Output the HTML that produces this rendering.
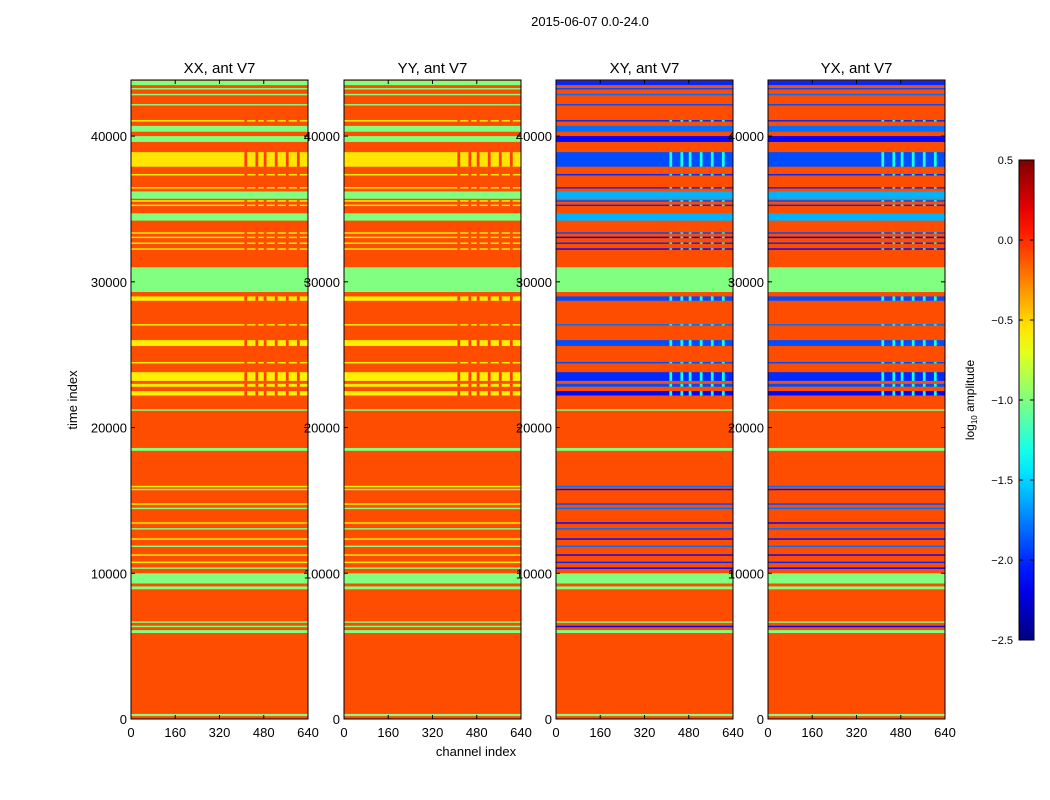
<!DOCTYPE html>
<html><head><meta charset="utf-8">
<style>
html,body{margin:0;padding:0;background:#fff;}
svg{display:block;font-family:"Liberation Sans","DejaVu Sans",sans-serif;}
</style></head>
<body>
<svg id="chart" width="1050" height="800"></svg>
<script>
// ---- data ----
const panelTitles = ["XX, ant V7","YY, ant V7","XY, ant V7","YX, ant V7"];
const xTicks = [0,160,320,480,640];
const yTicks = [0,10000,20000,30000,40000];
const cbTicks = [0.5,0.0,-0.5,-1.0,-1.5,-2.0,-2.5];
const baseValue = -0.1;
// bands: start time, end time, value for parallel-hand (XX/YY), value for cross-hand (XY/YX)
const bandStart = [200,5900,6300,6600,8900,9300,10300,10700,11200,11800,12300,13000,13400,14400,14700,15700,15900,18400,21150,22200,22800,23200,24400,25600,27000,28700,29300,32200,32600,33000,33300,34200,35200,35500,35700,36400,37300,37900,39600,40300,41000,42100,42800,43200,43500];
const bandEnd   = [350,6100,6400,6700,9100,10000,10400,10800,11300,11900,12400,13100,13500,14500,14800,15800,16000,18600,21250,22500,23000,23800,24500,26000,27100,29000,31000,32300,32700,33100,33400,34700,35300,35600,36200,36500,37400,38900,40000,40700,41100,42200,42900,43300,43800];
const parVal   = [-1.0,-1.0,-1.0,-1.0,-1.0,-1.0,-1.0,-0.58,-0.58,-1.0,-0.58,-1.0,-0.58,-1.0,-0.58,-1.0,-0.58,-1.0,-1.0,-0.58,-0.58,-0.58,-0.58,-0.58,-0.58,-0.58,-1.0,-0.58,-0.58,-0.58,-0.58,-1.0,-0.58,-0.58,-1.0,-0.58,-0.58,-0.55,-1.0,-1.0,-0.58,-1.0,-1.0,-1.0,-1.0];
const crossVal = [-1.0,-1.0,-2.1,-1.0,-1.0,-1.0,-2.1,-2.0,-2.1,-1.8,-2.1,-1.8,-2.1,-1.8,-1.9,-2.1,-1.8,-1.0,-1.0,-2.1,-1.9,-2.0,-1.9,-1.9,-1.8,-1.9,-1.0,-2.1,-2.0,-2.1,-1.9,-1.6,-2.0,-1.9,-1.6,-2.0,-2.0,-1.9,-2.1,-1.8,-2.0,-1.9,-1.8,-1.9,-2.0];
// high-channel striping
const stripeCh0 = [410,450,480,520,560,600];
const stripeCh1 = [420,460,490,530,570,610];
const stripeT0 = 22000, stripeT1 = 42000;
const stripeParVal = -0.05, stripeCrossVal = -1.3;

// ---- layout ----
const NS="http://www.w3.org/2000/svg";
const svg=document.getElementById('chart');
const panelX=[131,344,556,768], pw=177, plotTop=80, plotBot=719;
const tMax=43850, chMax=640;
function el(tag,attrs,parent){const e=document.createElementNS(NS,tag);for(const k in attrs)e.setAttribute(k,attrs[k]);(parent||svg).appendChild(e);return e;}
function yS(t){return plotBot-(t/tMax)*(plotBot-plotTop);}
function xS(p,c){return panelX[p]+c/chMax*pw;}
function jet(v){
  let x=(v+2.5)/3; x=Math.max(0,Math.min(1,x));
  const f=a=>Math.max(0,Math.min(1,a));
  const r=f(Math.min(4*x-1.5,-4*x+4.5)),g=f(Math.min(4*x-0.5,-4*x+3.5)),b=f(Math.min(4*x+0.5,-4*x+2.5));
  return `rgb(${Math.round(r*255)},${Math.round(g*255)},${Math.round(b*255)})`;
}
const title=el('text',{x:590,y:26,'text-anchor':'middle','font-size':13});
title.textContent="2015-06-07 0.0-24.0";



for(let p=0;p<4;p++){
  const g=el('g',{});
  
  
  const cross=p>=2;
  const bg=el('rect',{x:panelX[p],y:plotTop,width:pw,height:plotBot-plotTop,fill:jet(baseValue)},g);
  
  
  for(let i=0;i<bandStart.length;i++){
    const y0=yS(bandEnd[i]),y1=yS(bandStart[i]);
    const r=el('rect',{x:panelX[p],y:y0,width:pw,height:Math.max(1,y1-y0),fill:jet(cross?crossVal[i]:parVal[i])},g);
    
    
    if(bandStart[i]>=stripeT0&&bandEnd[i]<=stripeT1&&parVal[i]>-0.9){
      for(let s=0;s<stripeCh0.length;s++){
        const sr=el('rect',{x:xS(p,stripeCh0[s]),y:y0,width:xS(p,stripeCh1[s])-xS(p,stripeCh0[s]),height:Math.max(1,y1-y0),fill:jet(cross?stripeCrossVal:stripeParVal)},g);
        
        
      }
    }
  }
  const fr=el('rect',{x:panelX[p],y:plotTop,width:pw,height:plotBot-plotTop,fill:'none',stroke:'#000','stroke-width':1});
  
  
  const pt=el('text',{x:panelX[p]+pw/2,y:73,'text-anchor':'middle','font-size':15});
  pt.textContent=panelTitles[p];
  
  
  for(const c of xTicks){
    const x=xS(p,c);
    el('line',{x1:x,x2:x,y1:plotBot,y2:plotBot-4,stroke:'#000'});
    el('line',{x1:x,x2:x,y1:plotTop,y2:plotTop+4,stroke:'#000'});
    const t=el('text',{x:x,y:plotBot+18,'text-anchor':'middle','font-size':13});
    t.textContent=c;
    
    
  }
  for(const v of yTicks){
    const y=yS(v);
    el('line',{x1:panelX[p],x2:panelX[p]+4,y1:y,y2:y,stroke:'#000'});
    el('line',{x1:panelX[p]+pw,x2:panelX[p]+pw-4,y1:y,y2:y,stroke:'#000'});
    const t=el('text',{x:panelX[p]-4,y:y+5,'text-anchor':'end','font-size':13});
    t.textContent=v;
    
    
  }
}
const yl=el('text',{x:77,y:400,'text-anchor':'middle','font-size':13,transform:'rotate(-90 77 400)'});
yl.textContent="time index";


const xl=el('text',{x:476,y:756,'text-anchor':'middle','font-size':13});
xl.textContent="channel index";



// colorbar
const cbx=1019,cbw=15,cbTop=160,cbBot=640;
const cb=el('g',{});


const defs=el('defs',{});
const lg=el('linearGradient',{id:'jetg',x1:0,y1:1,x2:0,y2:0},defs);
for(let i=0;i<=20;i++){el('stop',{offset:i/20,'stop-color':jet(-2.5+3*i/20)},lg);}
el('rect',{x:cbx,y:cbTop,width:cbw,height:cbBot-cbTop,fill:'url(#jetg)',stroke:'#000'},cb);
function cbY(v){return cbBot-(v+2.5)/3*(cbBot-cbTop);}
for(const v of cbTicks){
  const y=cbY(v);
  el('line',{x1:cbx,x2:cbx+4,y1:y,y2:y,stroke:'#000'},cb);
  el('line',{x1:cbx+cbw,x2:cbx+cbw-4,y1:y,y2:y,stroke:'#000'},cb);
  const t=el('text',{x:1013,y:y+4,'text-anchor':'end','font-size':11},cb);
  t.textContent=v.toFixed(1).replace('-','\u2212');
  
  
}
const cl=el('text',{x:974,y:400,'text-anchor':'middle','font-size':12,transform:'rotate(-90 974 400)'},cb);
cl.innerHTML='log<tspan font-size="8" dy="3">10</tspan><tspan dy="-3"> amplitude</tspan>';


</script>
</body></html>
